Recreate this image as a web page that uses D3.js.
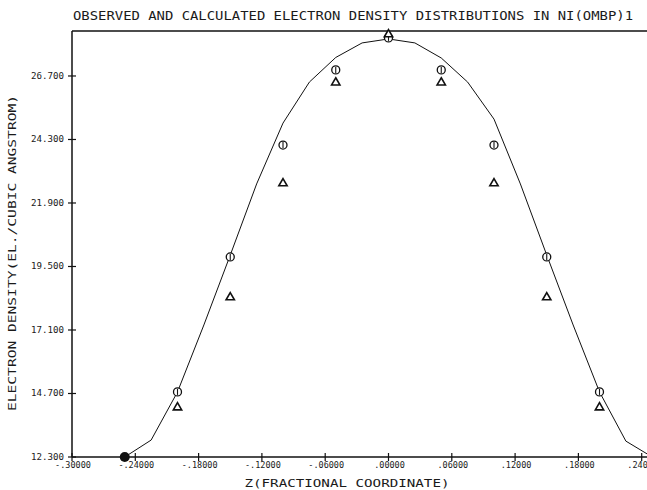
<!DOCTYPE html>
<html>
<head>
<meta charset="utf-8">
<script src="https://cdn.jsdelivr.net/npm/d3@7"></script>
<style>
  body { margin: 0; background: #fff; }
  text { font-family: "DejaVu Sans Mono", monospace; fill: #1a1a1a; }
</style>
</head>
<body>
<div id="chart"></div>
<script>
// calculated density (line), steps of 0.025
var zCalc = [-0.25, -0.225, -0.2, -0.175, -0.15, -0.125, -0.1, -0.075, -0.05, -0.025, 0,
             0.025, 0.05, 0.075, 0.1, 0.125, 0.15, 0.175, 0.2, 0.225, 0.25];
var rhoCalc = [12.30, 12.94, 14.76, 17.29, 19.93, 22.62, 24.92, 26.47, 27.40, 27.95, 28.10,
               27.95, 27.38, 26.47, 25.07, 22.62, 19.93, 17.29, 14.76, 12.90, 12.30];

// observed points (circles) and second observed set (triangles)
var zObs = [-0.25, -0.2, -0.15, -0.1, -0.05, 0, 0.05, 0.1, 0.15, 0.2, 0.25];
var rhoCircle = [12.30, 14.76, 19.86, 24.09, 26.93, 28.14, 26.93, 24.09, 19.86, 14.76, 12.30];
var rhoTriangle = [12.30, 14.19, 18.35, 22.66, 26.47, 28.29, 26.47, 22.66, 18.35, 14.19, 12.30];

var xTicks = [-0.30, -0.24, -0.18, -0.12, -0.06, 0, 0.06, 0.12, 0.18, 0.24];
var yTicks = [12.3, 14.7, 17.1, 19.5, 21.9, 24.3, 26.7];

var width = 647, height = 490;

var svg = d3.select("#chart").append("svg")
  .attr("width", width)
  .attr("height", height);

var x = d3.scaleLinear().domain([-0.3, 0.3]).range([72, 705]);
var y = d3.scaleLinear().domain([12.3, 28.4]).range([457, 31]);

function xFmt(v) {
  var s = Math.abs(v).toFixed(5).replace(/^0/, "");
  return (v < -1e-9 ? "-" : "") + s;
}

// frame
svg.append("line").attr("x1", x(-0.3)).attr("x2", width).attr("y1", y(28.4)).attr("y2", y(28.4))
  .attr("stroke", "#111").attr("stroke-width", 1.3);
svg.append("line").attr("x1", x(-0.3)).attr("x2", x(-0.3)).attr("y1", y(28.4)).attr("y2", y(12.3))
  .attr("stroke", "#111").attr("stroke-width", 1.5);
svg.append("line").attr("x1", x(-0.3)).attr("x2", width).attr("y1", y(12.3)).attr("y2", y(12.3))
  .attr("stroke", "#111").attr("stroke-width", 1.5);

// y ticks (cross style)
var yt = svg.append("g");
yt.selectAll("line").data(yTicks).enter().append("line")
  .attr("x1", x(-0.3) - 4).attr("x2", x(-0.3) + 4)
  .attr("y1", function(d) { return y(d); })
  .attr("y2", function(d) { return y(d); })
  .attr("stroke", "#111").attr("stroke-width", 1.2);
yt.selectAll("text").data(yTicks).enter().append("text")
  .attr("x", x(-0.3) - 8)
  .attr("y", function(d) { return y(d) + 3; })
  .attr("text-anchor", "end")
  .attr("textLength", 33)
  .attr("lengthAdjust", "spacingAndGlyphs")
  .style("font-size", "9px")
  .text(function(d) { return d.toFixed(3); });

// x ticks
var xt = svg.append("g");
xt.selectAll("line").data(xTicks).enter().append("line")
  .attr("x1", function(d) { return x(d); })
  .attr("x2", function(d) { return x(d); })
  .attr("y1", y(12.3) - 4).attr("y2", y(12.3) + 4)
  .attr("stroke", "#111").attr("stroke-width", 1.2);
xt.selectAll("text").data(xTicks).enter().append("text")
  .attr("x", function(d) { return x(d) + 1; })
  .attr("y", y(12.3) + 11)
  .attr("text-anchor", "middle")
  .style("font-size", "8.5px")
  .text(xFmt);

// calculated curve
var line = d3.line()
  .x(function(d, i) { return x(zCalc[i]); })
  .y(function(d) { return y(d); });

svg.append("path")
  .datum(rhoCalc)
  .attr("d", line)
  .attr("fill", "none")
  .attr("stroke", "#111")
  .attr("stroke-width", 1);

// markers
var pts = zObs.map(function(z, i) {
  return { z: z, c: rhoCircle[i], t: rhoTriangle[i] };
});

var tri = d3.symbol().type(d3.symbolTriangle).size(30);

var open = pts.filter(function(d) { return d.c !== d.t; });
var both = pts.filter(function(d) { return d.c === d.t; });

svg.selectAll(".obs").data(open).enter().append("circle")
  .attr("class", "obs")
  .attr("cx", function(d) { return x(d.z); })
  .attr("cy", function(d) { return y(d.c); })
  .attr("r", 4)
  .attr("fill", "#fff")
  .attr("stroke", "#111")
  .attr("stroke-width", 1.3);

svg.selectAll(".obsbar").data(open).enter().append("line")
  .attr("class", "obsbar")
  .attr("x1", function(d) { return x(d.z); })
  .attr("x2", function(d) { return x(d.z); })
  .attr("y1", function(d) { return y(d.c) - 3; })
  .attr("y2", function(d) { return y(d.c) + 3; })
  .attr("stroke", "#111")
  .attr("stroke-width", 1.1);

svg.selectAll(".tri").data(open).enter().append("path")
  .attr("class", "tri")
  .attr("transform", function(d) { return "translate(" + x(d.z) + "," + (y(d.t) + 0.5) + ")"; })
  .attr("d", tri)
  .attr("fill", "#fff")
  .attr("stroke", "#111")
  .attr("stroke-width", 1.6);

svg.selectAll(".both").data(both).enter().append("circle")
  .attr("class", "both")
  .attr("cx", function(d) { return x(d.z); })
  .attr("cy", function(d) { return y(d.c); })
  .attr("r", 5)
  .attr("fill", "#111");

// title and axis labels
svg.append("text")
  .attr("x", 73).attr("y", 20)
  .attr("textLength", 560)
  .attr("lengthAdjust", "spacingAndGlyphs")
  .style("font-size", "12px")
  .text("OBSERVED AND CALCULATED ELECTRON DENSITY DISTRIBUTIONS IN NI(OMBP)1");

svg.append("text")
  .attr("transform", "translate(16,253) rotate(-90)")
  .attr("text-anchor", "middle")
  .attr("textLength", 316)
  .attr("lengthAdjust", "spacingAndGlyphs")
  .style("font-size", "11px")
  .text("ELECTRON DENSITY(EL./CUBIC ANGSTROM)");

svg.append("text")
  .attr("x", 347).attr("y", 487)
  .attr("text-anchor", "middle")
  .attr("textLength", 205)
  .attr("lengthAdjust", "spacingAndGlyphs")
  .style("font-size", "11px")
  .text("Z(FRACTIONAL COORDINATE)");
</script>
</body>
</html>
